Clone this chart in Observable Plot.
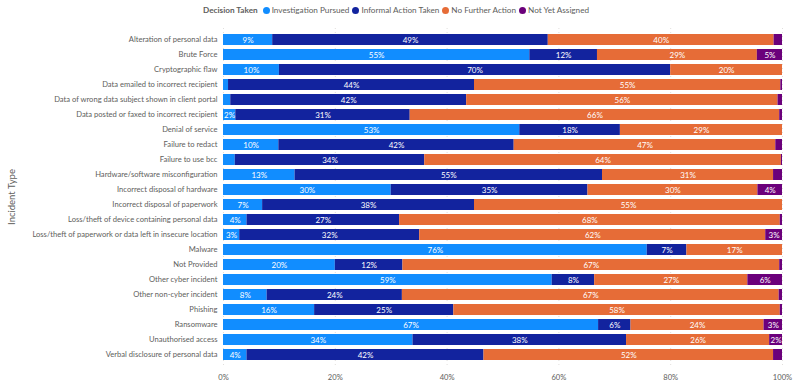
<!DOCTYPE html>
<html>
<head>
<meta charset="utf-8">
<script src="https://cdn.jsdelivr.net/npm/d3@7"></script>
<script src="https://cdn.jsdelivr.net/npm/@observablehq/plot@0.6"></script>
<style>
  body { margin: 0; background: #fff; font-family: Lato, "Open Sans", sans-serif; }
  #wrap { position: relative; width: 800px; height: 387px; }
  #legend { position: absolute; left: 203px; top: 5px; font-size: 8.2px; color: #605E5C; display: flex; align-items: center; white-space: nowrap; }
  #legend .title { font-weight: 700; color: #605E5C; margin-right: 5px; }
  #legend .item { display: flex; align-items: center; margin-right: 3px; }
  #legend .dot { width: 7px; height: 7px; border-radius: 50%; margin-right: 2px; }
  #chart { position: absolute; left: 0; top: 0; }
  #ytitle { position: absolute; left: 11px; top: 197px; transform: translate(-50%, -50%) rotate(-90deg); font-size: 9.5px; color: #605E5C; white-space: nowrap; }
</style>
</head>
<body>
<div id="wrap">
  <div id="chart"></div>
  <div id="legend"></div>
  <div id="ytitle"></div>
</div>
<script>
const categories = [
  "Alteration of personal data",
  "Brute Force",
  "Cryptographic flaw",
  "Data emailed to incorrect recipient",
  "Data of wrong data subject shown in client portal",
  "Data posted or faxed to incorrect recipient",
  "Denial of service",
  "Failure to redact",
  "Failure to use bcc",
  "Hardware/software misconfiguration",
  "Incorrect disposal of hardware",
  "Incorrect disposal of paperwork",
  "Loss/theft of device containing personal data",
  "Loss/theft of paperwork or data left in insecure location",
  "Malware",
  "Not Provided",
  "Other cyber incident",
  "Other non-cyber incident",
  "Phishing",
  "Ransomware",
  "Unauthorised access",
  "Verbal disclosure of personal data"
];
const decisions = ["Investigation Pursued", "Informal Action Taken", "No Further Action", "Not Yet Assigned"];
const colors = ["#118DFF", "#12239E", "#E66C37", "#6B007B"];
const yTitle = "Incident Type";

const investigationPursued = [8.8, 54.8, 10.0, 0.9, 1.3, 2.2, 53.0, 9.9, 2.1, 12.8, 30.0, 7.0, 4.2, 2.9, 75.8, 20.0, 58.8, 7.8, 16.3, 67.1, 33.9, 4.2];
const informalActionTaken = [49.3, 12.1, 70.0, 44.0, 42.2, 31.2, 18.0, 42.1, 33.9, 55.0, 35.2, 37.9, 27.3, 32.2, 7.1, 12.1, 7.6, 24.2, 24.9, 5.8, 38.2, 42.4];
const noFurtherAction = [40.4, 28.6, 20.0, 54.8, 55.7, 66.1, 29.0, 46.8, 63.8, 30.6, 30.4, 55.1, 68.1, 61.9, 17.1, 67.4, 27.4, 67.4, 58.4, 23.8, 25.6, 51.8];
const notYetAssigned = [1.5, 4.5, 0.0, 0.3, 0.8, 0.5, 0.0, 1.2, 0.2, 1.6, 4.4, 0.0, 0.4, 3.0, 0.0, 0.5, 6.2, 0.6, 0.4, 3.3, 2.3, 1.6];
const xTicks = [0, 20, 40, 60, 80, 100];

const series = [investigationPursued, informalActionTaken, noFurtherAction, notYetAssigned];
const rows = [];
decisions.forEach((dec, i) => {
  categories.forEach((cat, j) => {
    rows.push({incident: cat, decision: dec, value: series[i][j]});
  });
});

const chart = Plot.plot({
  width: 800,
  height: 387,
  marginTop: 28,
  marginBottom: 21,
  marginLeft: 223,
  marginRight: 18,
  style: { fontFamily: "Lato, 'Open Sans', sans-serif", fontSize: "7.6px", color: "#605E5C", background: "#fff" },
  x: { domain: [0, 100], ticks: xTicks, tickFormat: d => d + "%", tickSize: 0, tickPadding: 8, label: null },
  y: { domain: categories, paddingInner: 0.25, paddingOuter: 0.12, tickSize: 0, tickPadding: 6, label: null },
  color: { domain: decisions, range: colors },
  marks: [
    Plot.ruleX(xTicks, { stroke: "#E1DFDD", strokeDasharray: "1,3", strokeWidth: 1 }),
    Plot.barX(rows, { x: "value", y: "incident", fill: "decision", z: "decision" }),
    Plot.text(rows, Plot.stackX({
      x: "value", y: "incident", z: "decision",
      text: d => d.value >= 2.15 ? Math.round(d.value) + "%" : null,
      fill: "white", fontSize: 8
    }))
  ]
});
document.getElementById("chart").appendChild(chart);
document.getElementById("ytitle").textContent = yTitle;

const legend = document.getElementById("legend");
const t = document.createElement("span");
t.className = "title";
t.textContent = "Decision Taken";
legend.appendChild(t);
decisions.forEach((d, i) => {
  const item = document.createElement("span");
  item.className = "item";
  const dot = document.createElement("span");
  dot.className = "dot";
  dot.style.background = colors[i];
  const lab = document.createElement("span");
  lab.textContent = d;
  item.appendChild(dot);
  item.appendChild(lab);
  legend.appendChild(item);
});
</script>
</body>
</html>
